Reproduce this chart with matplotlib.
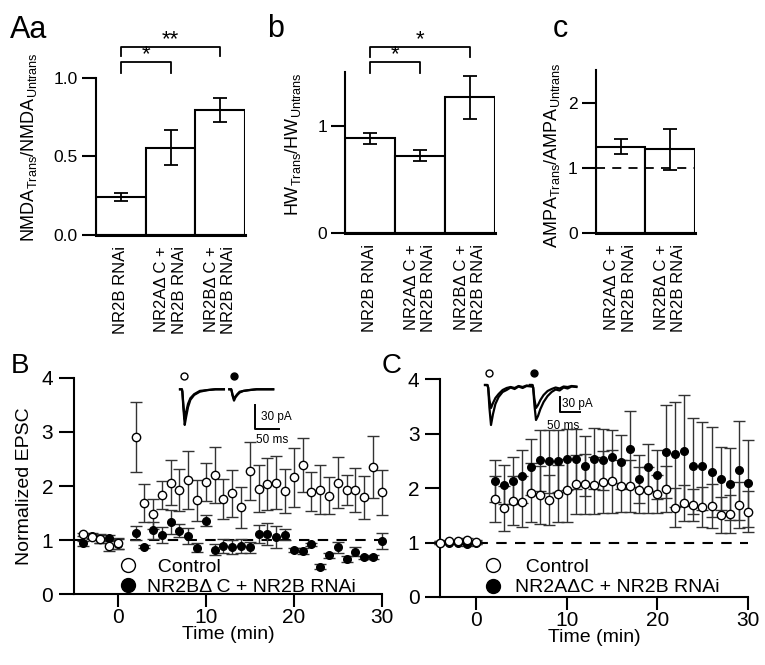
import matplotlib
matplotlib.use("Agg")
import matplotlib.pyplot as plt
from matplotlib.lines import Line2D
import numpy as np

plt.rcParams['font.family'] = ['Liberation Sans', 'DejaVu Sans']
plt.rcParams['mathtext.fontset'] = 'custom'
plt.rcParams['mathtext.rm'] = 'Liberation Sans'
plt.rcParams['mathtext.it'] = 'Liberation Sans'
plt.rcParams['mathtext.default'] = 'rm'

# ---------------- data ----------------
# Panel Aa
aa_labels = ["NR2B RNAi", "NR2AΔ C +\nNR2B RNAi", "NR2BΔ C +\nNR2B RNAi"]
aa_vals = [0.242, 0.555, 0.794]
aa_err = [0.025, 0.11, 0.075]
aa_sig = [(0, 1, "*"), (0, 2, "**")]
# Panel b
b_labels = ["NR2B RNAi", "NR2AΔ C +\nNR2B RNAi", "NR2BΔ C +\nNR2B RNAi"]
b_vals = [0.882, 0.72, 1.265]
b_err = [0.053, 0.053, 0.20]
b_sig = [(0, 1, "*"), (0, 2, "*")]
# Panel c
c_labels = ["NR2AΔ C +\nNR2B RNAi", "NR2BΔ C +\nNR2B RNAi"]
c_vals = [1.323, 1.282]
c_err = [0.113, 0.31]

# Panel B time course
tB = [-4, -3, -2, -1, 0, 2, 3, 4, 5, 6, 7, 8, 9, 10, 11, 12, 13, 14, 15, 16,
      17, 18, 19, 20, 21, 22, 23, 24, 25, 26, 27, 28, 29, 30]
B_ctrl = [1.11, 1.065, 1.03, 0.90, 0.94, 2.91, 1.68, 1.48, 1.83, 2.06, 1.93, 2.11,
          1.74, 2.08, 2.20, 1.76, 1.865, 1.61, 2.28, 1.95, 2.04, 2.06, 1.91, 2.16,
          2.38, 1.89, 1.93, 1.82, 2.06, 1.92, 1.93, 1.79, 2.35, 1.88]
B_ctrl_err = [0.03, 0.03, 0.08, 0.10, 0.10, 0.65, 0.35, 0.28, 0.26, 0.42, 0.39, 0.54,
              0.38, 0.35, 0.52, 0.37, 0.43, 0.38, 0.53, 0.43, 0.48, 0.49, 0.40, 0.55,
              0.50, 0.36, 0.45, 0.34, 0.47, 0.28, 0.41, 0.40, 0.57, 0.41]
B_nr2b = [0.94, 1.08, 1.02, 1.04, 0.93, 1.14, 0.88, 1.18, 1.09, 1.34, 1.17, 1.08,
          0.86, 1.36, 0.82, 0.90, 0.88, 0.89, 0.87, 1.11, 1.11, 1.06, 1.10, 0.82,
          0.80, 0.92, 0.51, 0.72, 0.87, 0.65, 0.79, 0.68, 0.69, 0.98]
B_nr2b_err = [0.05, 0.05, 0.08, 0.06, 0.10, 0.13, 0.03, 0.15, 0.15, 0.22, 0.12, 0.15,
              0.08, 0.10, 0.10, 0.13, 0.13, 0.13, 0.10, 0.17, 0.20, 0.20, 0.10, 0.03,
              0.05, 0.03, 0.05, 0.05, 0.10, 0.05, 0.08, 0.03, 0.03, 0.15]

# Panel C time course
tC = [-4, -3, -2, -1, 0, 2, 3, 4, 5, 6, 7, 8, 9, 10, 11, 12, 13, 14, 15, 16,
      17, 18, 19, 20, 21, 22, 23, 24, 25, 26, 27, 28, 29, 30]
C_ctrl = [1.0, 1.02, 1.02, 1.05, 1.01, 1.80, 1.63, 1.77, 1.75, 1.92, 1.87, 1.78,
          1.90, 1.96, 2.07, 2.08, 2.05, 2.11, 2.13, 2.04, 2.04, 1.97, 1.96, 1.89,
          1.99, 1.64, 1.72, 1.69, 1.65, 1.67, 1.51, 1.52, 1.69, 1.57]
C_ctrl_err = [0.02, 0.02, 0.02, 0.03, 0.03, 0.43, 0.41, 0.45, 0.47, 0.55, 0.53, 0.46,
              0.52, 0.58, 0.54, 0.55, 0.52, 0.57, 0.58, 0.47, 0.47, 0.42, 0.42, 0.35,
              0.42, 0.36, 0.33, 0.30, 0.37, 0.40, 0.33, 0.35, 0.43, 0.37]
C_nr2a = [1.0, 1.0, 1.0, 0.97, 1.0, 2.13, 2.06, 2.14, 2.22, 2.39, 2.51, 2.49,
          2.50, 2.53, 2.54, 2.40, 2.54, 2.52, 2.58, 2.48, 2.72, 2.17, 2.38, 2.25,
          2.67, 2.62, 2.69, 2.40, 2.41, 2.30, 2.17, 2.07, 2.33, 2.09]
C_nr2a_err = [0.02, 0.02, 0.02, 0.03, 0.03, 0.39, 0.36, 0.44, 0.49, 0.51, 0.56, 0.57,
              0.57, 0.56, 0.55, 0.55, 0.56, 0.56, 0.48, 0.50, 0.69, 0.44, 0.43, 0.45,
              0.86, 0.96, 1.02, 0.88, 0.81, 0.83, 0.58, 0.66, 0.91, 0.80]

# Example traces (ms, pA)
trB_t = [0, 4, 5, 7, 10, 13, 17, 22, 30, 42, 58, 75, 93]
trB_ctrl1 = [0, 0, -3, -22, -44, -34, -22, -13, -7, -3, -1, 0, 0]
trB_ctrl2 = [0, 0, -3, -18, -37, -28, -18, -11, -6, -2, -1, 0, 0]
trB_nr2b1 = [0, 0, -2, -8, -14, -10, -7, -4, -2, -1, 0, 0, 0]
trB_nr2b2 = [0, 0, -2, -7, -12, -9, -6, -3, -2, -1, 0, 0, 0]
trC_t = [0, 6, 8, 11, 15, 20, 26, 34, 44, 54, 64, 74, 84, 94, 104, 116]
trC_ctrl1 = [0, 0, -6, -45, -80, -58, -38, -24, -14, -10, -5, -8, -3, -6, -2, -3]
trC_ctrl2 = [0, 0, -5, -30, -46, -36, -26, -18, -10, -6, -4, -6, -2, -4, -1, -2]
trC_nr2a1 = [0, 0, -6, -40, -70, -62, -48, -34, -22, -14, -9, -11, -5, -7, -3, -4]
trC_nr2a2 = [0, 0, -5, -28, -46, -40, -30, -20, -12, -8, -5, -7, -3, -4, -2, -3]

# ---------------- figure ----------------
W, H = 765, 665
fig = plt.figure(figsize=(W / 100, H / 100), dpi=100)


def rect(x0, ytop, x1, ybot):
    return [x0 / W, 1 - ybot / H, (x1 - x0) / W, (ybot - ytop) / H]


LW = 1.5
ERRC = '#333333'


def bar_panel(r, labels, vals, errs, ylim, yticks, yticklabels, ylabel, lab_xy,
              sig=None, levels=None, dashed=False):
    ax = fig.add_axes(r)
    x = np.arange(len(vals))
    ax.bar(x, vals, width=1.0, color='white', edgecolor='black', linewidth=LW,
           zorder=2)
    ax.errorbar(x, vals, yerr=errs, fmt='none', ecolor='black', elinewidth=1.3,
                capsize=5, capthick=1.3, zorder=3, clip_on=False)
    if dashed:
        ax.axhline(1.0, color='black', lw=1.3, dashes=(5, 4), zorder=4)
    ax.set_xlim(-0.5, len(vals) - 0.5)
    ax.set_ylim(*ylim)
    ax.set_yticks(yticks)
    ax.set_yticklabels(yticklabels, fontsize=12.5)
    ax.set_xticks(x)
    ax.set_xticklabels(labels, rotation=90, fontsize=12, va='top', ha='center',
                       multialignment='right')
    ax.tick_params(axis='x', length=0, pad=8)
    ax.tick_params(axis='y', direction='out', length=10, width=LW, pad=3)
    for s in ['top', 'right']:
        ax.spines[s].set_visible(False)
    ax.spines['left'].set_linewidth(LW)
    ax.spines['bottom'].set_linewidth(2.2)
    ax.set_ylabel(ylabel, fontsize=13)
    ax.yaxis.set_label_coords(*lab_xy)
    if sig:
        for (i, j, s), (yb, yl) in zip(sig, levels):
            ax.plot([x[i], x[i], x[j], x[j]], [yl, yb, yb, yl], color='black',
                    lw=1.3, clip_on=False)
            ax.text((x[i] + x[j]) / 2, yb - 0.02 * ylim[1], s, ha='center',
                    va='bottom', fontsize=16)
    return ax


axA = bar_panel(rect(96, 77.7, 245, 235), aa_labels, aa_vals, aa_err, (0, 1.0),
                [0, 0.5, 1.0], ["0.0", "0.5", "1.0"],
                r"NMDA$_{\mathrm{Trans}}$/NMDA$_{\mathrm{Untrans}}$", (-0.38, 0.56),
                sig=aa_sig, levels=[(1.10, 1.028), (1.197, 1.138)])
axb = bar_panel(rect(345, 72.2, 495, 232.7), b_labels, b_vals, b_err, (0, 1.5),
                [0, 1], ["0", "1"],
                r"HW$_{\mathrm{Trans}}$/HW$_{\mathrm{Untrans}}$", (-0.28, 0.55),
                sig=b_sig, levels=[(1.598, 1.49), (1.738, 1.645)])
axc = bar_panel(rect(595.7, 70.2, 695, 232.7), c_labels, c_vals, c_err, (0, 2.5),
                [0, 1, 2], ["0", "1", "2"],
                r"AMPA$_{\mathrm{Trans}}$/AMPA$_{\mathrm{Untrans}}$", (-0.34, 0.48),
                dashed=True)


def time_panel(r, xlim, t, ctrl, ctrl_e, exp, exp_e, exp_label, leg_anchor,
               textpad):
    ax = fig.add_axes(r)
    ax.axhline(1.0, color='black', lw=1.5, dashes=(5, 4), zorder=1)
    ax.errorbar(t, exp, yerr=exp_e, fmt='none', ecolor=ERRC, elinewidth=1.0,
                capsize=4.5, capthick=1.0, zorder=2, clip_on=False)
    ax.errorbar(t, ctrl, yerr=ctrl_e, fmt='none', ecolor=ERRC, elinewidth=1.0,
                capsize=4.5, capthick=1.0, zorder=2, clip_on=False)
    ax.plot(t, exp, 'o', ms=5.5, mfc='black', mec='black', mew=1, zorder=3,
            clip_on=False)
    ax.plot(t, ctrl, 'o', ms=6, mfc='white', mec='black', mew=1, zorder=4,
            clip_on=False)
    ax.set_xlim(*xlim)
    ax.set_ylim(0, 4)
    ax.set_xticks([0, 10, 20, 30])
    ax.set_yticks([0, 1, 2, 3, 4])
    ax.tick_params(axis='both', labelsize=15, direction='out', width=LW)
    ax.tick_params(axis='y', length=11, pad=4)
    ax.tick_params(axis='x', length=9, pad=1)
    for s in ['top', 'right']:
        ax.spines[s].set_visible(False)
    ax.spines['left'].set_linewidth(LW)
    ax.spines['bottom'].set_linewidth(LW)
    ax.set_xlabel("Time (min)", fontsize=14, labelpad=-0.5)
    h1 = Line2D([], [], ls='none', marker='o', ms=10, mfc='white', mec='black',
                mew=1)
    h2 = Line2D([], [], ls='none', marker='o', ms=10, mfc='black', mec='black')
    ax.legend([h1, h2], ["  Control", exp_label], loc='center left',
              bbox_to_anchor=leg_anchor, frameon=False, fontsize=14,
              handlelength=1.0, handletextpad=textpad, labelspacing=0.15,
              borderpad=0, borderaxespad=0)
    return ax


axB = time_panel(rect(74, 377.7, 381.7, 594.3), (-5, 30), tB, B_ctrl, B_ctrl_err,
                 B_nr2b, B_nr2b_err, "NR2BΔ C + NR2B RNAi", (0.145, 0.08), 0.45)
axB.set_ylabel("Normalized EPSC", fontsize=14, labelpad=6)
axC = time_panel(rect(440.3, 379.3, 747.7, 597), (-4, 30), tC, C_ctrl, C_ctrl_err,
                 C_nr2a, C_nr2a_err, "NR2AΔC + NR2B RNAi", (0.141, 0.09), 0.6)


def inset(r, xlim, ylim, traces_ctrl, traces_exp, t, on_ctrl, on_exp, mk_y,
          sb_x, sb_y0, sb_y1, sb_x1, lbl_pa, lbl_ms):
    ax = fig.add_axes(r)
    ax.set_xlim(*xlim)
    ax.set_ylim(*ylim)
    ax.axis('off')
    tt = np.asarray(t, dtype=float)
    for tr in traces_ctrl:
        ax.plot(tt + on_ctrl, tr, color='black', lw=1.6)
    for tr in traces_exp:
        ax.plot(tt + on_exp, tr, color='black', lw=1.6)
    ax.plot([on_ctrl + 9], [mk_y], 'o', ms=5, mfc='white', mec='black', mew=1)
    ax.plot([on_exp + 9], [mk_y], 'o', ms=5, mfc='black', mec='black')
    ax.plot([sb_x, sb_x, sb_x1], [sb_y0, sb_y1, sb_y1], color='black', lw=1.4)
    ax.text(*lbl_pa, "30 pA", fontsize=8.5, ha='left', va='center')
    ax.text(*lbl_ms, "50 ms", fontsize=8.5, ha='left', va='center')
    return ax


inset(rect(175, 370, 285, 440), (0, 233), (-62.6, 23.8),
      [trB_ctrl1, trB_ctrl2], [trB_nr2b1, trB_nr2b2], trB_t, 10.6, 115, 16.5,
      170, -19.4, -49.4, 220, (182, -34), (172, -62))
inset(rect(480, 365, 590, 435), (0, 275), (-100, 40),
      [trC_ctrl1, trC_ctrl2], [trC_nr2a1, trC_nr2a2], trC_t, 12.5, 125, 23.4,
      200, -23.4, -53.4, 250, (205, -38), (168, -82))

# panel letters
fig.text(10 / W, 1 - 38 / H, "Aa", fontsize=22, ha='left', va='baseline')
fig.text(267 / W, 1 - 37 / H, "b", fontsize=22, ha='left', va='baseline')
fig.text(553 / W, 1 - 37 / H, "c", fontsize=22, ha='left', va='baseline')
fig.text(11 / W, 1 - 373 / H, "B", fontsize=20, ha='left', va='baseline')
fig.text(382 / W, 1 - 373 / H, "C", fontsize=20, ha='left', va='baseline')

fig.savefig("out.png", dpi=100)
